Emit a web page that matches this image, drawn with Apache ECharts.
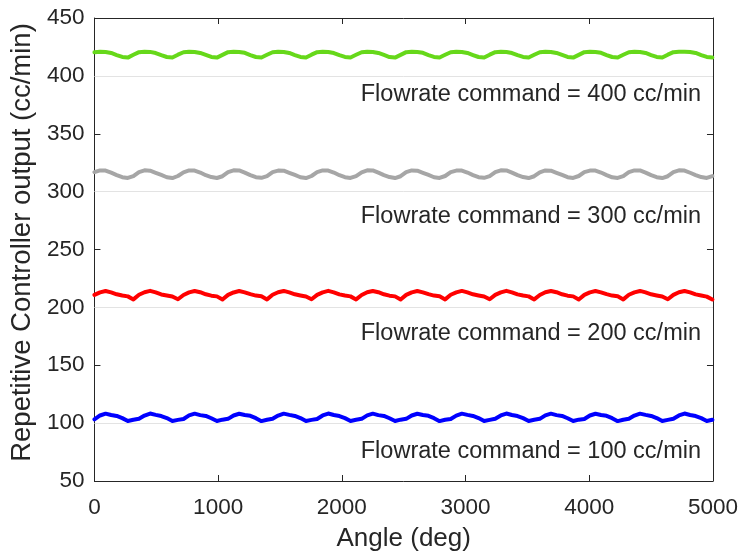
<!DOCTYPE html>
<html>
<head>
<meta charset="utf-8">
<script src="https://cdn.jsdelivr.net/npm/echarts@6/dist/echarts.min.js"></script>
<style>
  html, body { margin: 0; padding: 0; background: #ffffff; }
  #chart { width: 741px; height: 557px; }
</style>
</head>
<body>
<div id="chart"></div>
<script>
// Repetitive controller output sampled every 45 degrees of pump angle
const sampleStepDeg = 45;

const output400 = [
  420.4, 420.8, 420.6, 419.8, 418.0, 416.4, 415.8, 418.2,
  420.5, 420.9, 420.7, 419.7, 417.9, 416.3, 415.9, 418.3,
  420.4, 420.8, 420.6, 419.8, 418.1, 416.4, 415.8, 418.1,
  420.5, 420.9, 420.6, 419.9, 418.0, 416.3, 415.9, 418.2,
  420.4, 420.8, 420.7, 419.8, 418.0, 416.4, 415.8, 418.3,
  420.5, 420.9, 420.6, 419.7, 417.9, 416.4, 415.9, 418.2,
  420.4, 420.8, 420.7, 419.8, 418.1, 416.3, 415.8, 418.1,
  420.5, 420.8, 420.6, 419.9, 418.0, 416.4, 415.9, 418.2,
  420.4, 420.9, 420.7, 419.8, 418.0, 416.3, 415.8, 418.3,
  420.5, 420.8, 420.6, 419.7, 417.9, 416.4, 415.9, 418.2,
  420.4, 420.9, 420.7, 419.8, 418.1, 416.4, 415.8, 418.1,
  420.5, 420.8, 420.6, 419.9, 418.0, 416.3, 415.9, 418.2,
  420.4, 420.8, 420.7, 419.8, 418.0, 416.4, 415.8, 418.3,
  420.5, 420.9, 420.8, 420.6, 419.8, 418.0, 416.4, 415.8
];

const output300 = [
  316.8, 318.3, 318.2, 316.4, 314.3, 312.5, 311.8, 313.4,
  316.9, 318.4, 318.1, 316.3, 314.4, 312.4, 311.7, 313.5,
  316.7, 318.3, 318.2, 316.5, 314.2, 312.6, 311.8, 313.3,
  316.8, 318.4, 318.3, 316.4, 314.3, 312.5, 311.9, 313.4,
  316.9, 318.2, 318.1, 316.3, 314.4, 312.4, 311.7, 313.5,
  316.8, 318.3, 318.2, 316.5, 314.2, 312.5, 311.8, 313.4,
  316.7, 318.4, 318.3, 316.4, 314.3, 312.6, 311.7, 313.3,
  316.8, 318.3, 318.1, 316.3, 314.4, 312.4, 311.8, 313.5,
  316.9, 318.2, 318.2, 316.5, 314.3, 312.5, 311.9, 313.4,
  316.8, 318.4, 318.3, 316.4, 314.2, 312.6, 311.7, 313.3,
  316.7, 318.3, 318.1, 316.3, 314.4, 312.5, 311.8, 313.5,
  316.9, 318.2, 318.2, 316.5, 314.3, 312.4, 311.8, 313.4,
  316.8, 318.3, 318.3, 316.4, 314.2, 312.5, 311.7, 313.3,
  316.8, 318.4, 318.2, 316.3, 314.3, 312.6, 311.8, 313.4
];

const output200 = [
  210.8, 213.0, 214.2, 213.0, 211.3, 210.2, 209.5, 206.9,
  210.9, 213.1, 214.3, 212.9, 211.2, 210.3, 209.4, 207.0,
  210.7, 213.0, 214.2, 213.1, 211.3, 210.1, 209.5, 206.8,
  210.8, 212.9, 214.1, 213.0, 211.4, 210.2, 209.6, 206.9,
  210.9, 213.1, 214.2, 212.9, 211.3, 210.3, 209.4, 207.0,
  210.8, 213.0, 214.3, 213.0, 211.2, 210.2, 209.5, 206.9,
  210.7, 213.1, 214.2, 213.1, 211.3, 210.1, 209.5, 206.8,
  210.8, 213.0, 214.1, 213.0, 211.4, 210.2, 209.6, 206.9,
  210.9, 212.9, 214.2, 212.9, 211.3, 210.3, 209.4, 207.0,
  210.8, 213.0, 214.3, 213.0, 211.2, 210.2, 209.5, 206.9,
  210.7, 213.1, 214.2, 213.1, 211.3, 210.1, 209.5, 206.8,
  210.8, 213.0, 214.1, 213.0, 211.4, 210.2, 209.6, 206.9,
  210.9, 213.0, 214.2, 212.9, 211.3, 210.3, 209.4, 207.0,
  210.8, 213.1, 214.2, 213.0, 211.2, 210.2, 209.3, 206.8
];

const output100 = [
  103.2, 106.6, 108.2, 107.0, 106.2, 104.3, 101.8, 102.9,
  103.7, 106.5, 108.3, 107.1, 106.1, 104.4, 101.9, 102.8,
  103.6, 106.7, 108.2, 106.9, 106.2, 104.2, 101.8, 103.0,
  103.7, 106.6, 108.1, 107.0, 106.3, 104.3, 101.7, 102.9,
  103.8, 106.5, 108.2, 107.1, 106.2, 104.4, 101.8, 102.8,
  103.6, 106.6, 108.3, 107.0, 106.1, 104.3, 101.9, 102.9,
  103.7, 106.7, 108.2, 106.9, 106.2, 104.2, 101.8, 103.0,
  103.7, 106.6, 108.1, 107.0, 106.3, 104.3, 101.7, 102.9,
  103.6, 106.5, 108.2, 107.1, 106.2, 104.4, 101.8, 102.8,
  103.8, 106.6, 108.3, 107.0, 106.1, 104.3, 101.9, 102.9,
  103.7, 106.7, 108.2, 106.9, 106.2, 104.2, 101.8, 103.0,
  103.6, 106.6, 108.1, 107.0, 106.3, 104.3, 101.7, 102.9,
  103.7, 106.5, 108.2, 107.1, 106.2, 104.4, 101.8, 102.8,
  103.8, 106.6, 108.3, 107.0, 106.1, 104.3, 101.9, 102.9
];

const commandLevels = [100, 200, 300, 400];
const commandLabels = [
  'Flowrate command = 400 cc/min',
  'Flowrate command = 300 cc/min',
  'Flowrate command = 200 cc/min',
  'Flowrate command = 100 cc/min'
];
const xTicks = { min: 0, max: 5000, interval: 1000 };
const yTicks = { min: 50, max: 450, interval: 50 };

const toPairs = (vals) => vals.map((v, i) => [i * sampleStepDeg, v]);

const FONT = '"Liberation Sans", Arial, Helvetica, sans-serif';
const INK = '#262626';

const chart = echarts.init(document.getElementById('chart'), null, { renderer: 'canvas' });

const frameAxis = {
  type: 'value',
  axisLine: { show: true, onZero: false, lineStyle: { color: INK, width: 1 } },
  axisTick: { show: true, inside: true, length: 6, lineStyle: { color: INK, width: 1 } },
  splitLine: { show: false },
  minorTick: { show: false }
};

const lineSeries = (name, vals, color) => ({
  name,
  type: 'line',
  data: toPairs(vals),
  showSymbol: false,
  symbol: 'none',
  smooth: false,
  z: 3,
  lineStyle: { color, width: 4, cap: 'round', join: 'round' },
  emphasis: { disabled: true }
});

chart.setOption({
  animation: false,
  backgroundColor: '#ffffff',
  grid: { left: 91, right: 26, top: 18, bottom: 69, containLabel: false },
  xAxis: [
    Object.assign({}, frameAxis, {
      position: 'bottom',
      min: xTicks.min, max: xTicks.max, interval: xTicks.interval,
      axisLabel: { show: true, color: INK, fontSize: 22.5, fontFamily: FONT, margin: 15,
                   formatter: (v) => String(v) },
      name: 'Angle (deg)',
      nameLocation: 'middle',
      nameGap: 45,
      nameTextStyle: { color: INK, fontSize: 26, fontFamily: FONT }
    }),
    Object.assign({}, frameAxis, {
      position: 'top',
      min: xTicks.min, max: xTicks.max, interval: xTicks.interval,
      axisLabel: { show: false }
    })
  ],
  yAxis: [
    Object.assign({}, frameAxis, {
      position: 'left',
      min: yTicks.min, max: yTicks.max, interval: yTicks.interval,
      axisLabel: { show: true, color: INK, fontSize: 22.5, fontFamily: FONT, margin: 10,
                   formatter: (v) => String(v) },
      name: 'Repetitive Controller output (cc/min)',
      nameLocation: 'middle',
      nameRotate: 90,
      nameGap: 33,
      nameTextStyle: { color: INK, fontSize: 27.5, fontFamily: FONT, padding: [0, 0, 0, 14] }
    }),
    Object.assign({}, frameAxis, {
      position: 'right',
      min: yTicks.min, max: yTicks.max, interval: yTicks.interval,
      axisLabel: { show: false }
    })
  ],
  series: [
    {
      name: 'reference',
      type: 'line',
      data: [],
      z: 1,
      silent: true,
      markLine: {
        silent: true,
        symbol: ['none', 'none'],
        label: { show: false },
        lineStyle: { color: '#e3e3e3', width: 1, type: 'solid' },
        data: commandLevels.map((v) => ({ yAxis: v }))
      }
    },
    lineSeries('100 cc/min', output100, '#0000ff'),
    lineSeries('200 cc/min', output200, '#ff0000'),
    lineSeries('300 cc/min', output300, '#a6a6a6'),
    lineSeries('400 cc/min', output400, '#66d81a')
  ],
  graphic: commandLabels.map((txt, k) => ({
    type: 'text',
    right: 40,
    top: [83, 205, 322, 440][k],
    style: { text: txt, fill: INK, fontSize: 23.5, fontFamily: FONT }
  }))
});
</script>
</body>
</html>
